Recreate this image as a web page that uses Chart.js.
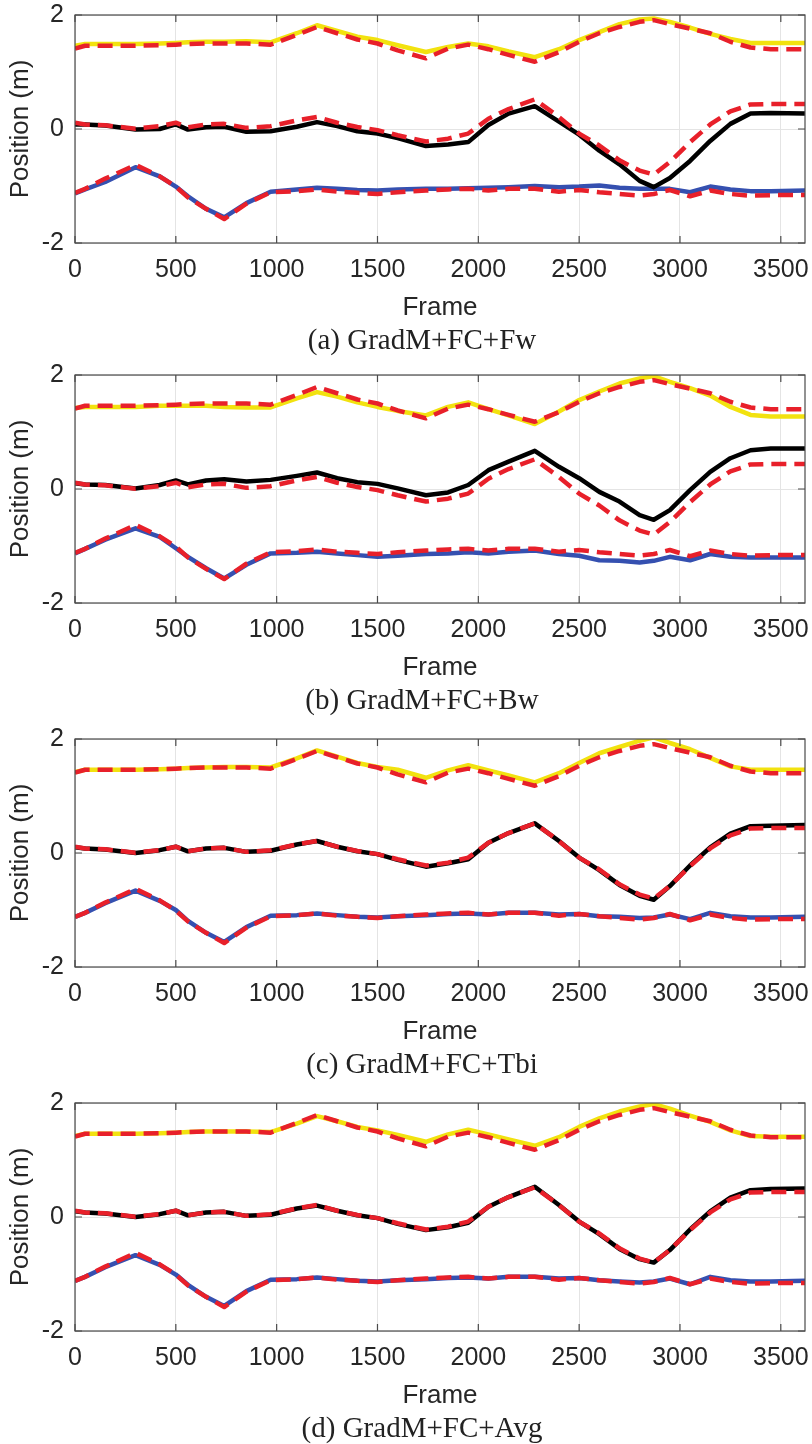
<!DOCTYPE html>
<html>
<head>
<meta charset="utf-8">
<script src="https://cdn.jsdelivr.net/npm/chart.js@4.4.0/dist/chart.umd.min.js"></script>
<style>
    body { margin: 0; background: #fff; width: 812px; height: 1444px; overflow: hidden; position: relative; }
    .panel { position: absolute; left: 0; width: 812px; height: 364px; }
</style>
</head>
<body>
<div class="panel" style="top:0px"><canvas id="chartA" width="812" height="364"></canvas></div>
<div class="panel" style="top:360px"><canvas id="chartB" width="812" height="364"></canvas></div>
<div class="panel" style="top:724px"><canvas id="chartC" width="812" height="364"></canvas></div>
<div class="panel" style="top:1088px"><canvas id="chartD" width="812" height="364"></canvas></div>
<script>
const frames = [0, 50, 150, 300, 420, 500, 560, 650, 740, 850, 970, 1100, 1200, 1300, 1400, 1500, 1600, 1740, 1850, 1950,
    2050, 2150, 2280, 2400, 2500, 2600, 2700, 2800, 2870, 2950, 3050, 3150, 3250, 3350, 3450, 3620]

const xTicks = [0, 500, 1000, 1500, 2000, 2500, 3000, 3500]
const yTicks = [-2, 0, 2]

// ground truth (red dashed), same in every panel
const truthTop = [1.41, 1.46, 1.46, 1.46, 1.47, 1.48, 1.49, 1.50, 1.50, 1.50, 1.48, 1.65, 1.79, 1.68, 1.57, 1.50, 1.38, 1.24, 1.41, 1.48,
    1.40, 1.30, 1.18, 1.35, 1.53, 1.68, 1.79, 1.88, 1.91, 1.84, 1.76, 1.68, 1.53, 1.43, 1.40, 1.40]
const truthMid = [0.11, 0.08, 0.065, 0.005, 0.05, 0.11, 0.03, 0.08, 0.09, 0.02, 0.05, 0.15, 0.21, 0.11, 0.035, -0.02, -0.11, -0.22, -0.17, -0.08,
    0.18, 0.35, 0.52, 0.21, -0.08, -0.29, -0.55, -0.73, -0.80, -0.58, -0.23, 0.08, 0.31, 0.43, 0.44, 0.44]
const truthBot = [-1.12, -1.05, -0.87, -0.63, -0.83, -1.01, -1.20, -1.40, -1.58, -1.31, -1.11, -1.09, -1.06, -1.10, -1.12, -1.14, -1.11, -1.08, -1.06, -1.05,
    -1.08, -1.05, -1.05, -1.10, -1.07, -1.11, -1.14, -1.17, -1.14, -1.07, -1.18, -1.08, -1.14, -1.17, -1.16, -1.16]

// (a) GradM+FC+Fw
const aTop = [1.46, 1.49, 1.49, 1.49, 1.50, 1.51, 1.52, 1.53, 1.53, 1.54, 1.52, 1.68, 1.82, 1.72, 1.62, 1.56, 1.47, 1.35, 1.44, 1.50,
    1.45, 1.36, 1.26, 1.40, 1.56, 1.70, 1.84, 1.92, 1.94, 1.88, 1.78, 1.67, 1.58, 1.51, 1.51, 1.51]
const aMid = [0.08, 0.08, 0.06, -0.01, 0.0, 0.08, -0.01, 0.03, 0.04, -0.05, -0.04, 0.04, 0.12, 0.05, -0.04, -0.08, -0.16, -0.30, -0.27, -0.23,
    0.07, 0.27, 0.40, 0.13, -0.10, -0.38, -0.62, -0.91, -1.02, -0.86, -0.56, -0.21, 0.09, 0.27, 0.28, 0.27]
const aBot = [-1.13, -1.06, -0.93, -0.67, -0.83, -1.01, -1.18, -1.40, -1.55, -1.30, -1.10, -1.06, -1.03, -1.05, -1.07, -1.08, -1.06, -1.05, -1.05, -1.04,
    -1.03, -1.02, -1.00, -1.02, -1.01, -0.99, -1.03, -1.05, -1.05, -1.05, -1.11, -1.01, -1.06, -1.09, -1.09, -1.08]

// (b) GradM+FC+Bw
const bTop = [1.42, 1.44, 1.44, 1.44, 1.46, 1.46, 1.46, 1.46, 1.44, 1.43, 1.43, 1.59, 1.70, 1.62, 1.52, 1.44, 1.37, 1.29, 1.44, 1.52,
    1.40, 1.29, 1.14, 1.36, 1.56, 1.71, 1.85, 1.94, 1.98, 1.88, 1.77, 1.64, 1.44, 1.30, 1.27, 1.27]
const bMid = [0.10, 0.08, 0.07, 0.01, 0.07, 0.15, 0.08, 0.15, 0.17, 0.13, 0.16, 0.23, 0.29, 0.19, 0.12, 0.09, 0.01, -0.11, -0.06, 0.07,
    0.33, 0.48, 0.67, 0.39, 0.19, -0.05, -0.22, -0.46, -0.54, -0.37, -0.02, 0.30, 0.54, 0.68, 0.71, 0.71]
const bBot = [-1.13, -1.05, -0.89, -0.69, -0.84, -1.04, -1.19, -1.39, -1.57, -1.33, -1.13, -1.12, -1.10, -1.13, -1.16, -1.19, -1.17, -1.14, -1.13, -1.11,
    -1.13, -1.10, -1.08, -1.14, -1.17, -1.25, -1.26, -1.29, -1.26, -1.19, -1.25, -1.14, -1.19, -1.20, -1.20, -1.20]

// (c) GradM+FC+Tbi
const cTop = [1.42, 1.46, 1.46, 1.46, 1.47, 1.48, 1.49, 1.50, 1.51, 1.51, 1.50, 1.66, 1.80, 1.69, 1.58, 1.51, 1.46, 1.32, 1.45, 1.54,
    1.45, 1.36, 1.24, 1.40, 1.58, 1.75, 1.86, 1.97, 2.03, 1.93, 1.82, 1.67, 1.52, 1.46, 1.46, 1.46]
const cMid = [0.10, 0.08, 0.06, 0.0, 0.05, 0.11, 0.03, 0.08, 0.09, 0.02, 0.04, 0.15, 0.21, 0.11, 0.03, -0.02, -0.12, -0.24, -0.18, -0.11,
    0.18, 0.35, 0.52, 0.21, -0.08, -0.30, -0.56, -0.75, -0.82, -0.58, -0.22, 0.10, 0.34, 0.47, 0.48, 0.49]
const cBot = [-1.12, -1.05, -0.88, -0.66, -0.84, -1.00, -1.19, -1.40, -1.56, -1.30, -1.10, -1.09, -1.06, -1.09, -1.12, -1.13, -1.11, -1.09, -1.07, -1.06,
    -1.08, -1.05, -1.05, -1.08, -1.07, -1.11, -1.12, -1.14, -1.13, -1.08, -1.16, -1.05, -1.11, -1.13, -1.13, -1.12]

// (d) GradM+FC+Avg
const dTop = [1.42, 1.46, 1.46, 1.46, 1.47, 1.48, 1.49, 1.50, 1.50, 1.50, 1.49, 1.64, 1.77, 1.68, 1.58, 1.52, 1.44, 1.32, 1.45, 1.53,
    1.45, 1.36, 1.25, 1.40, 1.58, 1.73, 1.85, 1.94, 1.98, 1.90, 1.78, 1.67, 1.52, 1.42, 1.41, 1.41]
const dMid = [0.10, 0.08, 0.06, 0.0, 0.05, 0.11, 0.03, 0.08, 0.09, 0.02, 0.04, 0.15, 0.20, 0.11, 0.03, -0.02, -0.12, -0.23, -0.18, -0.10,
    0.18, 0.35, 0.53, 0.21, -0.08, -0.30, -0.56, -0.74, -0.80, -0.58, -0.22, 0.10, 0.34, 0.47, 0.49, 0.50]
const dBot = [-1.12, -1.05, -0.88, -0.67, -0.84, -1.01, -1.19, -1.40, -1.56, -1.30, -1.10, -1.09, -1.06, -1.09, -1.12, -1.13, -1.11, -1.09, -1.07, -1.06,
    -1.08, -1.05, -1.05, -1.08, -1.07, -1.11, -1.13, -1.15, -1.13, -1.08, -1.18, -1.05, -1.11, -1.13, -1.13, -1.12]

const YELLOW = '#f2e20f'
const RED = '#e8202a'
const BLUE = '#3550b0'
const BLACK = '#000000'
const AXIS_FONT = '"Liberation Sans", Arial, Helvetica, sans-serif'

function pts(vals) {
    return frames.map((f, i) => ({ x: f, y: vals[i] }))
}

// matlab style box, inward ticks and the caption under the axes
const frameBox = {
    id: 'frameBox',
    afterDraw(chart, args, opts) {
        const { ctx, chartArea: a, scales } = chart
        ctx.save()
        ctx.strokeStyle = '#4a4a4a'
        ctx.lineWidth = 1.2
        ctx.strokeRect(a.left, a.top, a.right - a.left, a.bottom - a.top)
        ctx.beginPath()
        scales.x.ticks.forEach(t => {
            const px = scales.x.getPixelForValue(t.value)
            ctx.moveTo(px, a.bottom); ctx.lineTo(px, a.bottom - 7)
            ctx.moveTo(px, a.top); ctx.lineTo(px, a.top + 7)
        })
        scales.y.ticks.forEach(t => {
            const py = scales.y.getPixelForValue(t.value)
            ctx.moveTo(a.left, py); ctx.lineTo(a.left + 7, py)
            ctx.moveTo(a.right, py); ctx.lineTo(a.right - 7, py)
        })
        ctx.stroke()
        ctx.font = '29px "Liberation Serif", "Times New Roman", serif'
        ctx.fillStyle = '#222'
        ctx.textAlign = 'center'
        ctx.textBaseline = 'alphabetic'
        ctx.fillText(opts.caption, 422, a.bottom + 106)
        ctx.restore()
    }
}

function makeChart(id, caption, top, mid, bot) {
    const ctx = document.getElementById(id)
    new Chart(ctx, {
        type: 'line',
        data: {
            datasets: [
                { data: pts(truthTop), borderColor: RED, borderDash: [15, 8], borderWidth: 4.5 },
                { data: pts(truthMid), borderColor: RED, borderDash: [15, 8], borderWidth: 4.5 },
                { data: pts(truthBot), borderColor: RED, borderDash: [15, 8], borderWidth: 4.5 },
                { data: pts(top), borderColor: YELLOW, borderWidth: 4.5 },
                { data: pts(mid), borderColor: BLACK, borderWidth: 4.5 },
                { data: pts(bot), borderColor: BLUE, borderWidth: 4.5 }
            ]
        },
        options: {
            responsive: false,
            animation: false,
            layout: { padding: { top: 15, right: 7, left: 0, bottom: 0 } },
            elements: { point: { radius: 0 }, line: { tension: 0, borderCapStyle: 'butt', borderJoinStyle: 'round' } },
            plugins: {
                legend: { display: false },
                tooltip: { enabled: false },
                frameBox: { caption: caption }
            },
            scales: {
                x: {
                    type: 'linear',
                    min: 0,
                    max: 3620,
                    afterBuildTicks: function (scale) {
                        scale.ticks = xTicks.map(v => ({ value: v }))
                    },
                    afterFit: function (scale) {
                        scale.height = 121
                        scale.paddingLeft = 0
                        scale.paddingRight = 0
                    },
                    grid: { color: '#e4e4e4', lineWidth: 1, drawTicks: false },
                    border: { display: false },
                    ticks: {
                        padding: 12,
                        color: '#262626',
                        font: { family: AXIS_FONT, size: 25 },
                        maxRotation: 0,
                        autoSkip: false,
                        callback: v => String(v)
                    },
                    title: {
                        display: true,
                        text: 'Frame',
                        color: '#262626',
                        font: { family: AXIS_FONT, size: 26 },
                        padding: { top: 0, bottom: 41 }
                    }
                },
                y: {
                    min: -2,
                    max: 2,
                    afterBuildTicks: function (scale) {
                        scale.ticks = yTicks.map(v => ({ value: v }))
                    },
                    afterFit: function (scale) {
                        scale.width = 75
                        scale.paddingTop = 0
                        scale.paddingBottom = 0
                    },
                    grid: { color: '#e4e4e4', lineWidth: 1, drawTicks: false },
                    border: { display: false },
                    ticks: {
                        padding: 11,
                        color: '#262626',
                        font: { family: AXIS_FONT, size: 25 },
                        callback: v => String(v)
                    },
                    title: {
                        display: true,
                        text: 'Position (m)',
                        color: '#262626',
                        font: { family: AXIS_FONT, size: 26 },
                        padding: { top: 5, bottom: 0 }
                    }
                }
            }
        },
        plugins: [frameBox]
    })
}

makeChart('chartA', '(a) GradM+FC+Fw', aTop, aMid, aBot)
makeChart('chartB', '(b) GradM+FC+Bw', bTop, bMid, bBot)
makeChart('chartC', '(c) GradM+FC+Tbi', cTop, cMid, cBot)
makeChart('chartD', '(d) GradM+FC+Avg', dTop, dMid, dBot)
</script>
</body>
</html>
